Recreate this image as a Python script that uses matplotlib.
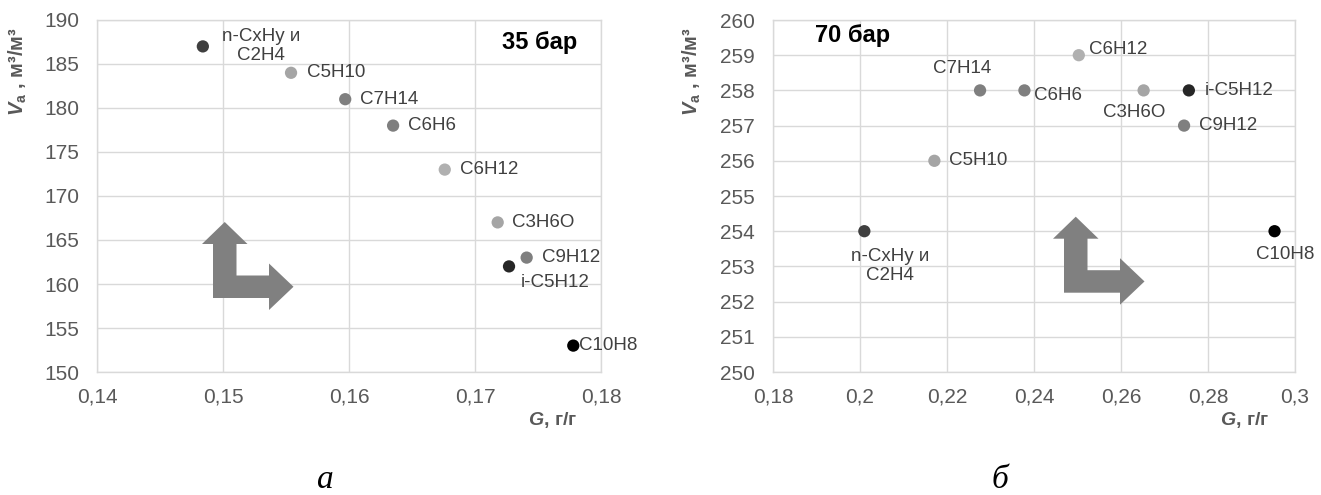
import matplotlib
matplotlib.use("Agg")
import matplotlib.pyplot as plt
from matplotlib.patches import Polygon
from matplotlib.transforms import ScaledTranslation

plt.rcParams['font.family'] = ['Liberation Sans', 'DejaVu Sans']
plt.rcParams['mathtext.fontset'] = 'custom'
plt.rcParams['mathtext.rm'] = 'Liberation Sans'
plt.rcParams['mathtext.bf'] = 'Liberation Sans:bold'
plt.rcParams['mathtext.it'] = 'Liberation Sans:italic'
plt.rcParams['mathtext.bfit'] = 'Liberation Sans:italic:bold'

# data
names = ['n-CxHy и\nC2H4', 'C5H10', 'C7H14', 'C6H6', 'C6H12',
         'C3H6O', 'C9H12', 'i-C5H12', 'C10H8']
colors = ['#3f3f3f', '#a5a5a5', '#7f7f7f', '#7f7f7f', '#b0b0b0',
          '#a5a5a5', '#7f7f7f', '#262626', '#000000']

g35 = [0.1484, 0.1554, 0.1597, 0.1635, 0.1676, 0.1718, 0.1741, 0.1727, 0.1778]
v35 = [187, 184, 181, 178, 173, 167, 163, 162, 153]

g70 = [0.2010, 0.2171, 0.2276, 0.2378, 0.2503, 0.2652, 0.2745, 0.2756, 0.2953]
v70 = [254, 256, 258, 258, 259, 258, 257, 258, 254]

xt35 = [0.14, 0.15, 0.16, 0.17, 0.18]
xl35 = ['0,14', '0,15', '0,16', '0,17', '0,18']
yt35 = [150, 155, 160, 165, 170, 175, 180, 185, 190]

xt70 = [0.18, 0.20, 0.22, 0.24, 0.26, 0.28, 0.30]
xl70 = ['0,18', '0,2', '0,22', '0,24', '0,26', '0,28', '0,3']
yt70 = [250, 251, 252, 253, 254, 255, 256, 257, 258, 259, 260]

# label placement (offset pixels, ha)
off35 = [(58, 0, 'center'), (16, 0, 'left'), (15, 0, 'left'), (15, 0, 'left'),
         (15, 0, 'left'), (14, 0, 'left'), (15, 0, 'left'), (46, -16, 'center'),
         (6, 0, 'left')]
off70 = [(26, -35, 'center'), (15, 0, 'left'), (-18, 22, 'center'), (10, -5, 'left'),
         (10, 6, 'left'), (-9, -22, 'center'), (16, 0, 'left'), (15, 0, 'left'),
         (11, -23, 'center')]
off70 = [off70[0], off70[1], off70[2], off70[3], off70[4], off70[5], off70[7], off70[6], off70[8]]

# L-shaped arrow outline in pixels relative to the corner
arrow_px = [(0, 0), (0, 54), (-11, 54), (11.75, 76), (34.5, 54), (23.5, 54),
            (23.5, 22.5), (56, 22.5), (56, 34.5), (80.5, 11.25), (56, -12),
            (56, 0)]

W, H = 1321, 495
fig = plt.figure(figsize=(W / 100, H / 100), dpi=100)
ax1 = fig.add_axes([97 / W, 1 - 372 / H, 504 / W, 352 / H])
ax2 = fig.add_axes([773 / W, 1 - 372 / H, 522 / W, 352 / H])

grid_c = '#d9d9d9'
txt_c = '#404040'
tick_c = '#595959'


def setup(ax, g, v, xt, xl, yt, offs, title, title_pos, title_ha, arrow_at):
    ax.scatter(g, v, s=78, c=colors, zorder=3, linewidths=0)
    for name, x, y, (dx, dy, ha) in zip(names, g, v, offs):
        ax.annotate(name, (x, y), xytext=(dx, dy), textcoords='offset pixels',
                    ha=ha, va='center', fontsize=13.5, color=txt_c,
                    multialignment='center', linespacing=1.15, zorder=4)
    ax.set_xlim(xt[0], xt[-1])
    ax.set_ylim(yt[0], yt[-1])
    ax.set_xticks(xt)
    ax.set_xticklabels(xl)
    ax.set_yticks(yt)
    ax.tick_params(length=0, labelsize=15, labelcolor=tick_c)
    ax.tick_params(axis='x', pad=11)
    ax.tick_params(axis='y', pad=13)
    ax.grid(True, color=grid_c, linewidth=1)
    ax.set_axisbelow(True)
    for sp in ax.spines.values():
        sp.set_color(grid_c)
        sp.set_linewidth(1)
    ax.text(title_pos[0], title_pos[1], title, transform=ax.transAxes,
            fontsize=17, fontweight='bold', ha=title_ha, va='center', color='black')
    ax.text(0.903, -0.137, r'$\mathbfit{G}$$\mathbf{,}$ г/г', transform=ax.transAxes,
            fontsize=14, fontweight='bold', ha='center', va='center', color=tick_c)
    tr = fig.dpi_scale_trans + ScaledTranslation(arrow_at[0], arrow_at[1], ax.transAxes)
    verts = [(px / 100, py / 100) for px, py in arrow_px]
    ax.add_patch(Polygon(verts, closed=True, transform=tr, facecolor='#808080',
                         edgecolor='none', zorder=2, clip_on=False))


setup(ax1, g35, v35, xt35, xl35, yt35, off35, '35 бар', (0.952, 0.936), 'right',
      ((213 - 97) / 504, (372 - 298) / 352))
setup(ax2, g70, v70, xt70, xl70, yt70, off70, '70 бар', (0.08, 0.955), 'left',
      ((1064 - 773) / 522, (372 - 292.7) / 352))

ylab = r'$\mathbfit{V}_{\mathbf{a}}$ , м³/м³'
fig.text(18 / W, 1 - 27 / H, ylab, rotation=90, ha='center', va='top',
         fontsize=14.5, fontweight='bold', color=tick_c)
fig.text(692 / W, 1 - 27 / H, ylab, rotation=90, ha='center', va='top',
         fontsize=14.5, fontweight='bold', color=tick_c)

fig.text(325 / W, 1 - 488 / H, 'а', family='Liberation Serif', style='italic',
         fontsize=24, ha='center', va='baseline', color='black')
fig.text(1000 / W, 1 - 488 / H, 'б', family='Liberation Serif', style='italic',
         fontsize=24, ha='center', va='baseline', color='black')

fig.savefig('out.png', dpi=100)
plt.close()
